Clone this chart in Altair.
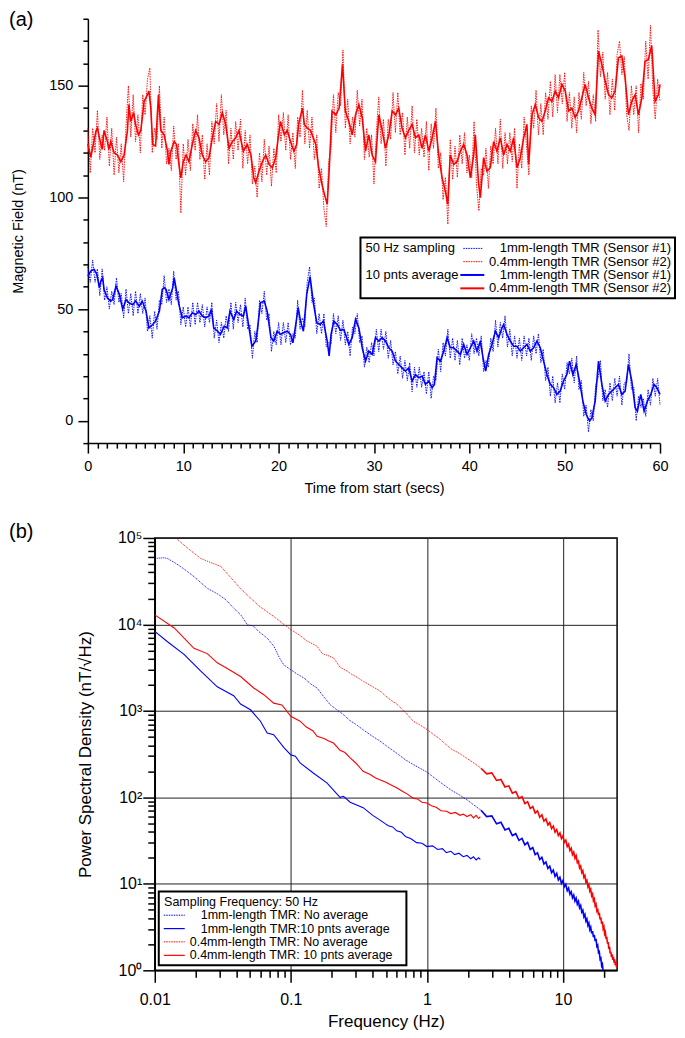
import altair as alt
import pandas as pd

FONT = "Liberation Sans"
RED = "#ff0000"
BLUE = "#0000ff"

# ---------------- (a) magnetic field vs time ----------------
# 10 pnts average traces (time in s, field in nT)
red_avg_t = [0, 0.3, 0.85, 1.0, 1.35, 1.5, 1.7, 2.05, 2.2, 2.4,
             2.75, 3.1, 3.45, 3.8, 4.15, 4.3, 4.5, 4.8, 5.0, 5.3,
             5.55, 5.9, 6.25, 6.4, 6.6, 6.8, 7.1, 7.4, 7.65, 8.0,
             8.35, 8.5, 8.7, 9.05, 9.3, 9.55, 9.75, 10.0, 10.3, 10.6,
             10.95, 11.3, 11.65, 12.0, 12.35, 12.7, 13.05, 13.4, 13.75, 14.1,
             14.45, 14.8, 15.15, 15.5, 15.85, 16.0, 16.3, 16.7, 17.1, 17.4,
             17.6, 17.95, 18.3, 18.65, 19.0, 19.35, 19.7, 20.0, 20.2, 20.6,
             20.9, 21.25, 21.6, 21.9, 22.1, 22.5, 22.7, 23.0, 23.35, 23.9,
             24.2, 24.55, 24.9, 25.1, 25.3, 25.6, 26.0, 26.35, 26.7, 27.0,
             27.37, 27.72, 28.07, 28.42, 28.77, 29.12, 29.46, 29.81, 30.16, 30.51,
             30.86, 31.21, 31.56, 31.91, 32.26, 32.6, 32.95, 33.3, 33.65, 34.0,
             34.35, 34.7, 35.05, 35.4, 35.75, 36.1, 36.45, 36.79, 37.14, 37.49,
             37.74, 38.0, 38.36, 38.71, 39.06, 39.41, 39.76, 40.11, 40.46, 40.63,
             40.98, 41.16, 41.5, 41.85, 42.2, 42.55, 42.9, 43.25, 43.6, 43.95,
             44.3, 44.65, 45.0, 45.35, 45.7, 46.04, 46.22, 46.57, 46.92, 47.27,
             47.61, 47.96, 48.31, 48.66, 49.01, 49.36, 49.71, 50.06, 50.41, 50.76,
             51.1, 51.45, 51.8, 52.15, 52.5, 52.85, 53.2, 53.55, 53.9, 54.25,
             54.6, 54.94, 55.29, 55.64, 55.99, 56.34, 56.69, 57.04, 57.39, 57.74,
             58.09, 58.43, 58.78, 59.13, 59.48, 59.83, 60.0]
red_avg_v = [124, 118, 129.7, 131, 124, 121.5, 130, 125, 121.5, 125,
             120, 119, 116, 119, 130, 141.6, 134, 138, 132.7, 128,
             130, 143, 146, 147.6, 140, 123.7, 123, 146, 130, 128,
             120.7, 114.8, 120.7, 125, 123.7, 114.8, 108.8, 116, 119, 116,
             123.7, 130, 126.7, 119, 116, 117.8, 126.7, 134, 132.7, 138,
             132.7, 122, 125, 126.7, 130, 126.7, 120.7, 123.7, 119, 108.8,
             106.6, 111.8, 116, 119, 114.8, 113.3, 117.8, 128, 134, 128,
             130, 125, 120.7, 123.7, 132.7, 140, 132.7, 131, 130, 123.7,
             113.3, 105.8, 99.9, 97, 111.8, 138.7, 137, 140, 159.6, 138.7,
             134, 128, 137, 141.6, 135.7, 120.7, 128, 119, 116, 137,
             130, 122, 128, 138.7, 137, 140, 131, 126.7, 130, 132.7,
             126.7, 128, 122, 128, 120.7, 126.7, 134, 119, 108.8, 102.8,
             96.9, 119, 114.8, 116, 120.7, 123.7, 119, 108.8, 119, 128,
             105.8, 99.9, 117.8, 111.8, 113.3, 125, 120.7, 126.7, 119, 123.7,
             120.7, 126.7, 113.3, 117.8, 126.7, 132.7, 114.8, 137, 141.6, 135.7,
             134, 138.7, 144.6, 143, 147.6, 144.6, 150.6, 147.6, 138.7, 140,
             135.7, 138.7, 144.6, 150.6, 144.6, 140, 137, 165.5, 159.6, 152,
             146, 144.6, 147.6, 162.5, 163.3, 153.6, 137, 143, 146, 137,
             144.6, 161, 161.8, 168, 143, 146, 150.6]

blue_avg_t = [0, 0.3, 0.65, 0.95, 1.2, 1.35, 1.55, 1.7, 2.05, 2.4,
              2.6, 2.95, 3.3, 3.65, 4.0, 4.3, 4.7, 5.0, 5.4, 5.7,
              6.1, 6.4, 6.8, 7.1, 7.5, 7.8, 8.0, 8.2, 8.5, 8.9,
              9.05, 9.3, 9.55, 9.9, 10.3, 10.6, 10.95, 11.3, 11.65, 12.0,
              12.35, 12.7, 12.95, 13.2, 13.6, 13.9, 14.3, 14.6, 14.9, 15.3,
              15.6, 15.95, 16.3, 16.55, 16.9, 17.2, 17.6, 17.8, 18.1, 18.5,
              18.8, 19.2, 19.5, 19.85, 20.2, 20.5, 20.9, 21.25, 21.5, 21.8,
              22.05, 22.3, 22.6, 22.95, 23.3, 23.65, 24.0, 24.35, 24.7, 25.1,
              25.3, 25.5, 25.8, 26.15, 26.5, 26.85, 27.37, 27.72, 28.07, 28.42,
              28.77, 29.12, 29.46, 29.81, 30.16, 30.51, 30.86, 31.21, 31.56, 31.91,
              32.26, 32.6, 32.95, 33.3, 33.65, 34.0, 34.35, 34.7, 35.05, 35.4,
              35.75, 36.1, 36.34, 36.62, 36.97, 37.32, 37.67, 38.0, 38.36, 38.71,
              39.06, 39.41, 39.76, 40.11, 40.46, 40.81, 41.16, 41.44, 41.72, 42.03,
              42.38, 42.73, 43.08, 43.43, 43.6, 43.95, 44.3, 44.65, 45.0, 45.35,
              45.7, 46.04, 46.39, 46.74, 47.09, 47.44, 47.79, 48.14, 48.49, 48.84,
              49.18, 49.53, 49.88, 50.23, 50.51, 50.86, 51.21, 51.56, 51.91, 52.26,
              52.61, 52.85, 53.2, 53.55, 53.9, 54.25, 54.6, 54.94, 55.29, 55.64,
              55.99, 56.34, 56.69, 57.04, 57.39, 57.63, 57.98, 58.33, 58.68, 59.03,
              59.38, 59.66, 60.0]
blue_avg_v = [64.8, 67, 67.8, 65.5, 59.6, 62.5, 64, 58.8, 55, 53.6,
              54.3, 60.3, 56.6, 49.9, 54.3, 52.8, 52, 53.6, 51.3, 53.6,
              49.1, 41.6, 43.1, 44.6, 49.1, 58.8, 59.6, 58.8, 54.3, 59.6,
              64, 58, 52, 46.1, 46.9, 46.1, 48.4, 47.6, 49.1, 46.9,
              46.1, 46.9, 49.9, 41.6, 40.1, 38.7, 42.4, 41.6, 49.1, 45.4,
              49.1, 47.6, 46.9, 51.3, 41.6, 33.4, 35.7, 41.6, 52.8, 53.6,
              49.1, 37.2, 35.7, 40.1, 38.7, 39.4, 40.1, 38.7, 34.9, 43.1,
              50.6, 44.6, 40.1, 56.6, 64.5, 52.8, 43.9, 43.1, 44.6, 35.7,
              29, 38.7, 44.6, 43.1, 40.5, 40.9, 34.2, 37.2, 45.4, 41.6,
              32.7, 26.7, 31.2, 29.7, 37.2, 35.7, 37.2, 35.7, 32.7, 31.2,
              26.7, 25.2, 23.7, 22.2, 23.7, 17.8, 20.7, 19.3, 20, 16.3,
              17.8, 14.8, 16.3, 28.2, 26.7, 31.2, 37.2, 32.7, 32.7, 31.2,
              29.7, 34.2, 29.7, 32.7, 35.7, 31.2, 35.7, 28.2, 22.2, 29.7,
              34.2, 40.1, 37.2, 41.6, 43.1, 38.7, 35.7, 33.4, 33.4, 31.2,
              32.7, 34.2, 31.2, 32.7, 35.7, 32.7, 26.7, 20.7, 16.3, 14.8,
              11.8, 13.3, 17.8, 20.7, 26.7, 20.7, 25.2, 17.8, 8.8, 2.8,
              -0.1, 1.3, 8.8, 26.7, 16.3, 8.8, 11.8, 13.3, 14.8, 16.3,
              11.8, 13.3, 25.2, 17.8, 5.8, 4.3, 11.8, 4.3, 8.8, 11.8,
              16.3, 14.8, 11.8]

red_raw_v = [131, 111, 131, 120, 139, 117, 128, 121, 136, 114,
             131, 110, 127, 111, 124, 107, 132, 150, 127, 146,
             125, 137, 120, 146, 137, 153, 158, 120, 131, 126,
             150, 122, 136, 115, 122, 112, 132, 117, 124, 93,
             124, 110, 126, 112, 133, 121, 137, 117, 128, 108,
             124, 110, 134, 124, 142, 125, 146, 128, 139, 115,
             131, 117, 134, 121, 135, 113, 130, 115, 128, 106,
             114, 100, 120, 107, 126, 110, 123, 105, 122, 111,
             137, 125, 138, 121, 137, 117, 129, 113, 136, 127,
             148, 124, 139, 122, 136, 117, 128, 104, 113, 95,
             87, 116, 122, 146, 129, 147, 141, 166, 131, 144,
             124, 136, 127, 148, 132, 144, 117, 131, 118, 128,
             106, 129, 145, 124, 135, 114, 135, 126, 147, 129,
             147, 128, 138, 119, 136, 122, 141, 120, 135, 119,
             131, 118, 134, 112, 133, 122, 140, 113, 120, 99,
             109, 88, 126, 108, 123, 109, 128, 115, 129, 111,
             119, 109, 134, 106, 94, 113, 110, 122, 104, 123,
             115, 131, 115, 135, 113, 129, 115, 129, 116, 131,
             104, 124, 113, 136, 123, 110, 141, 131, 148, 128,
             142, 128, 147, 135, 152, 136, 155, 138, 155, 142,
             156, 134, 147, 131, 145, 129, 147, 135, 156, 141,
             152, 133, 146, 134, 175, 154, 165, 144, 156, 137,
             153, 139, 164, 170, 155, 163, 137, 130, 150, 137,
             150, 129, 151, 144, 170, 153, 177, 148, 135, 153,
             143]
blue_raw_v = [69, 62, 72, 62, 68, 56, 68, 54, 60, 50,
              58, 52, 64, 53, 57, 46, 59, 48, 57, 47,
              58, 48, 57, 48, 55, 40, 47, 37, 49, 41,
              54, 52, 65, 53, 59, 52, 67, 54, 58, 43,
              51, 42, 51, 42, 53, 43, 53, 44, 52, 42,
              51, 44, 53, 37, 45, 35, 44, 37, 47, 40,
              53, 41, 53, 44, 52, 42, 55, 41, 43, 28,
              40, 35, 54, 48, 58, 45, 48, 31, 40, 34,
              44, 34, 44, 35, 44, 34, 39, 37, 54, 41,
              46, 42, 62, 69, 53, 55, 39, 48, 39, 48,
              33, 35, 34, 48, 39, 47, 36, 45, 34, 40,
              29, 42, 39, 48, 35, 38, 24, 33, 26, 35,
              29, 41, 31, 41, 32, 40, 28, 36, 25, 31,
              21, 29, 19, 27, 18, 26, 13, 24, 15, 24,
              15, 22, 12, 22, 10, 20, 18, 32, 22, 35,
              29, 41, 28, 37, 27, 36, 25, 37, 28, 34,
              27, 39, 30, 37, 29, 38, 22, 27, 24, 37,
              31, 45, 33, 44, 37, 47, 33, 41, 29, 38,
              28, 37, 27, 38, 29, 37, 27, 38, 30, 39,
              26, 32, 18, 24, 11, 20, 8, 17, 8, 21,
              14, 26, 21, 28, 17, 29, 14, 18, 2, 7,
              -5, 5, 0, 16, 19, 27, 9, 14, 6, 17,
              9, 19, 11, 20, 7, 17, 17, 30, 14, 15,
              0, 11, 6, 10, 2, 14, 7, 19, 11, 19,
              7]
raw_t = [i * 0.25 for i in range(len(red_raw_v))]

# ---------------- (b) power spectral density ----------------
# no-average spectra, low-frequency part (dotted)
psd_blue_raw_f = [0.01, 0.0117, 0.0124, 0.0145, 0.017, 0.0195, 0.0243, 0.029, 0.033,
                  0.0381, 0.043, 0.0479, 0.053, 0.058, 0.067, 0.075, 0.0825, 0.0887,
                  0.1, 0.112, 0.125, 0.14, 0.156, 0.175, 0.195, 0.218, 0.244, 0.27,
                  0.3, 0.341, 0.39, 0.453, 0.52, 0.6, 0.7, 0.794, 0.9,
                  1.0, 1.25, 1.5, 1.75, 2.0, 2.25, 2.5]
psd_blue_raw_p = [58000, 59000, 58000, 50000, 42000, 35500, 26200, 22500, 19500,
                  15400, 12800, 9900, 9600, 8300, 6950, 5600, 4100, 3410,
                  2990, 2650, 2400, 2050, 1840, 1450, 1175, 1030, 904, 780,
                  700, 603, 520, 447, 380, 324, 270, 240, 215,
                  196, 150, 122, 106, 92, 80, 71]
psd_red_raw_f = [0.01, 0.0126, 0.01426, 0.0175, 0.0217, 0.0258, 0.0305, 0.0355, 0.0427,
                 0.05, 0.058, 0.067, 0.078, 0.089, 0.1, 0.115, 0.13, 0.156, 0.17,
                 0.185, 0.206, 0.23, 0.258, 0.28, 0.3, 0.341, 0.39, 0.453, 0.52,
                 0.6, 0.7, 0.794, 0.9,
                 1.0, 1.25, 1.5, 1.75, 2.0, 2.25, 2.5]
psd_red_raw_p = [155000, 118000, 100000, 76000, 58000, 52000, 47000, 36000, 26000,
                 20500, 16500, 14000, 11800, 10000, 8700, 7600, 6500, 5600, 4600,
                 4400, 4100, 3200, 2900, 2650, 2500, 2200, 1950, 1700, 1400,
                 1200, 950, 760, 680,
                 610, 470, 365, 320, 278, 245, 217]

# no-average spectra above 2.5 Hz, every 0.25 Hz bin (dense noisy band)
psd_blue_hf_p = [71, 60, 61, 49.5, 51.5, 42, 43.8, 36.2, 38, 31.8,
                 33.6, 28.2, 30.2, 25, 26.3, 21.8, 22.9, 19.1, 20.3, 17,
                 17.9, 15.1, 16, 13.5, 14.4, 12.2, 13.2, 11.1, 11.9, 10.1,
                 10.9, 9.25, 9.85, 8.35, 8.95, 7.6, 8.1, 6.9, 7.42, 6.32,
                 6.83, 5.82, 6.28, 5.29, 5.64, 4.72, 4.97, 4.17, 4.42, 3.71,
                 3.93, 3.31, 3.52, 2.96, 3.16, 2.67, 2.85, 2.42, 2.58, 2.18,
                 2.32, 1.89, 1.95, 1.6, 1.64, 1.34, 1.38, 1.13, 1.18, 0.97]
psd_blue_hf_f = [2.5 + 0.25 * i for i in range(len(psd_blue_hf_p))]
psd_red_hf_p = [217, 187, 192, 157, 161, 132, 136, 112, 117, 97.4,
                102, 84.8, 88.9, 74.4, 78.4, 65.9, 69.9, 59, 62.9, 53,
                56.5, 47.9, 51.1, 43.4, 46.5, 39.6, 42.4, 36.2, 38.9, 33.3,
                35.9, 30.2, 32, 27, 28.7, 24.3, 25.8, 21.8, 23.3, 19.8,
                21.2, 17.6, 18.3, 15.3, 16.1, 13.5, 14.2, 11.9, 12.5, 10.5,
                11.0, 9.3, 9.86, 8.26, 8.69, 7.27, 7.63, 6.37, 6.68, 5.57,
                5.83, 4.91, 5.19, 4.36, 4.61, 3.87, 4.08, 3.45, 3.66, 3.04,
                3.18, 2.64, 2.76, 2.31, 2.44, 2.03, 2.12, 1.77, 1.88, 1.57,
                1.64, 1.42, 1.53, 1.32, 1.43, 1.23, 1.34, 1.15, 1.25, 1.09,
                1.16]
psd_red_hf_f = [2.5 + 0.25 * i for i in range(len(psd_red_hf_p))]

# 10 pnts average spectra (up to 2.5 Hz)
psd_blue_avg_f = [0.01, 0.0124, 0.0164, 0.0217, 0.0288, 0.038, 0.0427, 0.0505, 0.0598,
                  0.067, 0.0748, 0.089, 0.1, 0.108, 0.117, 0.147, 0.184, 0.23, 0.244,
                  0.273, 0.34, 0.4, 0.45, 0.49, 0.52, 0.56, 0.6, 0.65, 0.7, 0.76,
                  0.84, 0.92, 1.0, 1.1, 1.2, 1.3, 1.39, 1.5, 1.6, 1.72, 1.85, 1.97,
                  2.1, 2.2, 2.3, 2.4, 2.47]
psd_blue_avg_p = [8300, 6300, 4500, 2900, 1900, 1500, 1200, 1030, 760,
                  555, 530, 376, 310, 300, 250, 190, 147, 100, 103,
                  88, 76, 62, 55, 50, 47, 45.5, 41, 39.5, 35, 33.5,
                  30, 29.5, 27, 27.5, 25, 25.5, 23, 23.8, 21.8, 22.6, 20.6, 21.3,
                  19.5, 20.6, 18.9, 20, 19.2]
psd_red_avg_f = [0.01, 0.0139, 0.0194, 0.0243, 0.0288, 0.0341, 0.0427, 0.0534, 0.0633,
                 0.0748, 0.086, 0.1, 0.117, 0.13, 0.145, 0.156, 0.175, 0.19, 0.206,
                 0.23, 0.25, 0.273, 0.3, 0.34, 0.38, 0.42, 0.45, 0.5, 0.55, 0.6,
                 0.66, 0.72, 0.79, 0.85, 0.92, 1.0, 1.08, 1.17, 1.27, 1.39,
                 1.5, 1.62, 1.75, 1.85, 1.97, 2.1, 2.2, 2.3, 2.4, 2.47]
psd_red_avg_p = [12900, 9100, 5300, 4600, 3600, 3100, 2500, 1840, 1540,
                 1230, 1170, 865, 760, 650, 590, 508, 480, 450, 425,
                 350, 330, 286, 250, 200, 185, 168, 160, 150, 138, 129,
                 118, 109, 98, 96, 88, 86, 80, 77, 70, 69,
                 65, 67, 62, 64, 60, 63, 58, 62, 57, 60]

_one = pd.DataFrame({"k": [0]})


def txt(s, x, y, size, align="left", baseline="middle"):
    return alt.Chart(_one).mark_text(
        text=s, align=align, baseline=baseline, font=FONT, fontSize=size, color="black"
    ).encode(x=alt.value(x), y=alt.value(y))


def key_line(x1, x2, y, color, dotted, width):
    extra = {"strokeDash": [1.5, 1]} if dotted else {}
    return alt.Chart(_one).mark_rule(color=color, strokeWidth=width, **extra).encode(
        x=alt.value(x1), x2=alt.value(x2), y=alt.value(y)
    )


def box(x1, x2, y1, y2):
    return alt.Chart(_one).mark_rect(fill="white", stroke="black", strokeWidth=2).encode(
        x=alt.value(x1), x2=alt.value(x2), y=alt.value(y1), y2=alt.value(y2)
    )


# ---- panel (a) ----
x_a = alt.X(
    "t:Q",
    scale=alt.Scale(domain=[0, 60], nice=False, zero=False),
    axis=alt.Axis(
        values=list(range(0, 61)),
        labelExpr="datum.value % 10 == 0 ? datum.label : ''",
        tickSize={"condition": {"test": "datum.value % 10 == 0", "value": 10}, "value": 5},
        title="Time from start (secs)", titleY=49, titleBaseline="alphabetic",
        labelFontSize=14.5, titleFontSize=14.5, labelPadding=6,
        labelOverlap=False, labelFlush=False, grid=False,
        domainWidth=1.5, tickWidth=1.5,
    ),
)
y_a = alt.Y(
    "v:Q",
    scale=alt.Scale(domain=[-10, 180], nice=False, zero=False),
    axis=alt.Axis(
        values=list(range(-10, 181, 10)),
        labelExpr="datum.value % 50 == 0 ? datum.label : ''",
        tickSize={"condition": {"test": "datum.value % 50 == 0", "value": 10}, "value": 5},
        title="Magnetic Field (nT)", titleX=-65, titleBaseline="alphabetic",
        labelFontSize=14.5, titleFontSize=14.5, labelPadding=5,
        labelOverlap=False, labelFlush=False, grid=False,
        domainWidth=1.5, tickWidth=1.5,
    ),
)


def trace(t, v, color, raw):
    df = pd.DataFrame({"t": t, "v": v})
    if raw:
        m = alt.Chart(df).mark_line(color=color, strokeWidth=0.9, strokeDash=[1.5, 1])
    else:
        m = alt.Chart(df).mark_line(color=color, strokeWidth=1.6)
    return m.encode(x=x_a, y=y_a)


layers_a = [
    trace(raw_t, blue_raw_v, BLUE, True),
    trace(raw_t, red_raw_v, RED, True),
    trace(blue_avg_t, blue_avg_v, BLUE, False),
    trace(red_avg_t, red_avg_v, RED, False),
    box(273, 588, 219, 280),
    txt("50 Hz sampling", 278, 230, 13),
    txt("10 pnts average", 278, 256.6, 13),
    key_line(376, 396, 230, BLUE, True, 1),
    key_line(376, 396, 243.3, RED, True, 1),
    key_line(373, 397, 256.6, BLUE, False, 2),
    key_line(373, 397, 270, RED, False, 2),
    txt("1mm-length TMR (Sensor #1)", 584, 230, 13, align="right"),
    txt("0.4mm-length TMR (Sensor #2)", 584, 243.3, 13, align="right"),
    txt("1mm-length TMR (Sensor #1)", 584, 256.6, 13, align="right"),
    txt("0.4mm-length TMR (Sensor #2)", 584, 270, 13, align="right"),
    txt("(a)", -79, -9, 20, baseline="top"),
]
panel_a = alt.layer(*layers_a).properties(width=573, height=425)

# ---- panel (b) ----
DEC = "abs(log(datum.value)/LN10 - round(log(datum.value)/LN10)) < 0.001"
f_ticks = [round(m * 10.0 ** e, 6) for e in range(-2, 2) for m in range(1, 10)]
f_ticks = [v for v in f_ticks if v <= 25]
p_ticks = [m * 10 ** e for e in range(5) for m in range(1, 10)] + [100000]

x_b = alt.X(
    "f:Q",
    scale=alt.Scale(type="log", domain=[0.01, 25], nice=False),
    axis=alt.Axis(
        values=f_ticks,
        labelExpr=f"{DEC} ? format(datum.value, '~g') : ''",
        tickSize={"condition": {"test": DEC, "value": 12}, "value": 7},
        gridOpacity={"condition": {"test": DEC, "value": 1}, "value": 0},
        grid=True, gridColor="#222", gridWidth=1,
        title="Frequency (Hz)", titleY=56, titleBaseline="alphabetic",
        labelFontSize=16, titleFontSize=17, labelPadding=9,
        labelOverlap=False, labelFlush=False,
        domainWidth=1.5, tickWidth=1.5,
    ),
)
y_b = alt.Y(
    "p:Q",
    scale=alt.Scale(type="log", domain=[1, 100000], nice=False),
    axis=alt.Axis(
        values=p_ticks,
        labelExpr=f"{DEC} ? '10' + ['\u2070','\u00b9','\u00b2','\u00b3','\u2074','\u2075'][round(log(datum.value)/LN10)] : ''",
        tickSize={"condition": {"test": DEC, "value": 12}, "value": 7},
        gridOpacity={"condition": {"test": DEC, "value": 1}, "value": 0},
        grid=True, gridColor="#222", gridWidth=1,
        title="Power Spectral Density (nT/\u221aHz)", titleX=-64.5, titleBaseline="alphabetic",
        labelFontSize=16, titleFontSize=17, labelPadding=1,
        labelOverlap=False, labelFlush=False,
        domainWidth=1.5, tickWidth=1.5,
    ),
)


def spectrum(f, p, color, style):
    df = pd.DataFrame({"f": f, "p": p})
    if style == "dotted":
        m = alt.Chart(df).mark_line(color=color, clip=True, strokeWidth=1, strokeDash=[1, 1])
    elif style == "band":
        m = alt.Chart(df).mark_line(color=color, clip=True, strokeWidth=1.6)
    else:
        m = alt.Chart(df).mark_line(color=color, clip=True, strokeWidth=1.1)
    return m.encode(x=x_b, y=y_b)


layers_b = [
    spectrum(psd_blue_raw_f, psd_blue_raw_p, BLUE, "dotted"),
    spectrum(psd_red_raw_f, psd_red_raw_p, RED, "dotted"),
    spectrum(psd_blue_hf_f, psd_blue_hf_p, BLUE, "band"),
    spectrum(psd_red_hf_f, psd_red_hf_p, RED, "band"),
    spectrum(psd_blue_avg_f, psd_blue_avg_p, BLUE, "solid"),
    spectrum(psd_red_avg_f, psd_red_avg_p, RED, "solid"),
    box(4, 252, 354, 428),
    txt("Sampling Frequency: 50 Hz", 9.3, 364.5, 12.5),
    key_line(9, 30, 377.8, BLUE, True, 1),
    key_line(9, 30, 391.2, BLUE, False, 1.2),
    key_line(9, 30, 404.5, RED, True, 1),
    key_line(9, 30, 418, RED, False, 1.2),
    txt("1mm-length TMR: No average", 46, 377.8, 12.5),
    txt("1mm-length TMR:10 pnts average", 46, 391.2, 12.5),
    txt("0.4mm-length TMR: No average", 35, 404.5, 12.5),
    txt("0.4mm-length TMR: 10 pnts average", 35, 418, 12.5),
    txt("(b)", -146, -16, 20, baseline="top"),
]
panel_b = alt.layer(*layers_b).properties(
    width=463, height=433, view=alt.ViewBackground(stroke="black", strokeWidth=1.5)
)

spacer = alt.Chart(_one).mark_point(opacity=0, size=1).encode(
    x=alt.value(0), y=alt.value(0)
).properties(width=67, height=10)

chart = (
    alt.vconcat(
        panel_a,
        alt.hconcat(spacer, panel_b, spacing=0, bounds="flush"),
        spacing=95,
        bounds="flush",
    )
    .properties(padding=0, background="white")
    .configure_view(stroke="transparent")
    .configure_axis(
        domainColor="black", tickColor="black", labelColor="black", titleColor="black",
        labelFont=FONT, titleFont=FONT, titleFontWeight="normal",
    )
)

chart.save("out.html", embed_options={"renderer": "svg", "actions": False})
